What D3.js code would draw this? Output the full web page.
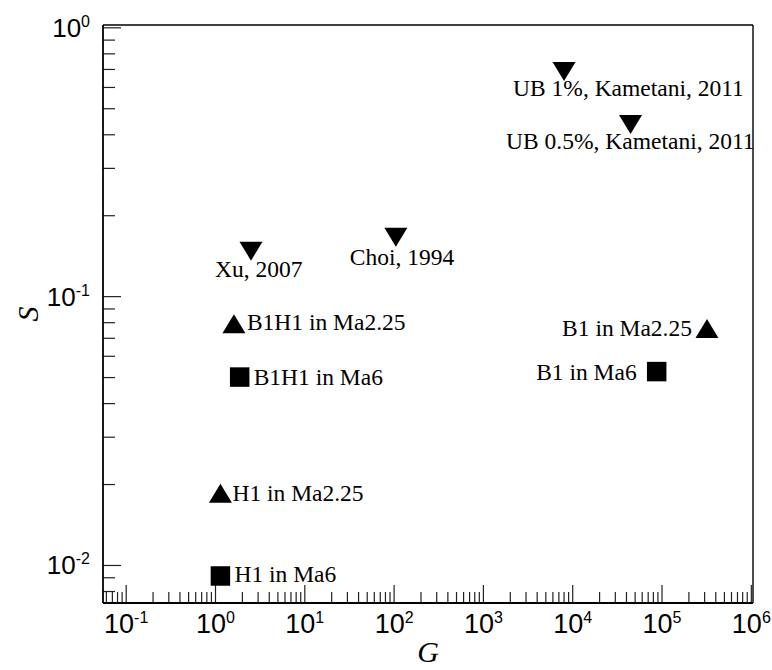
<!DOCTYPE html>
<html>
<head>
<meta charset="utf-8">
<script src="https://cdn.jsdelivr.net/npm/d3@7"></script>
<style>
  html, body { margin: 0; padding: 0; background: #fff; }
  svg { display: block; }
</style>
</head>
<body>
<svg id="chart" width="772" height="670"></svg>
<script>
// Point labels, the group each case belongs to, and the (G, S) values
const pointLabels = [
  "UB 1%, Kametani, 2011",
  "UB 0.5%, Kametani, 2011",
  "Xu, 2007",
  "Choi, 1994",
  "B1H1 in Ma2.25",
  "B1H1 in Ma6",
  "H1 in Ma2.25",
  "H1 in Ma6",
  "B1 in Ma2.25",
  "B1 in Ma6"
];
const pointGroups = ["reference", "reference", "reference", "reference",
                     "Ma2.25", "Ma6", "Ma2.25", "Ma6", "Ma2.25", "Ma6"];
const gValues = [8100, 45000, 2.53, 106, 1.63, 1.89, 1.15, 1.15, 323000, 88300];
const sValues = [0.685, 0.435, 0.147, 0.1655, 0.079, 0.050, 0.0185, 0.0091, 0.0758, 0.0524];

// Decade exponents for the major tick labels
const xTickExponents = [-1, 0, 1, 2, 3, 4, 5, 6];
const yTickExponents = [-2, -1, 0];

// Label placement relative to each marker (pixels)
const labelAnchor = ["start", "end", "start", "start", "start", "start", "start", "start", "end", "end"];
const labelDx = [-51, 124, -36, -46, 13, 14, 12, 14, -15, -20];
const labelDy = [25, 25, 26, 28, 6, 8, 8, 6, 8, 8];

const W = 772, H = 670;
const margin = { left: 103, right: 19, top: 25, bottom: 67 };
const iw = W - margin.left - margin.right;
const ih = H - margin.top - margin.bottom;

const svg = d3.select("#chart");
const g = svg.append("g").attr("transform", `translate(${margin.left},${margin.top})`);

const x = d3.scaleLog().domain([0.0557, 1.058e6]).range([0, iw]);
const y = d3.scaleLog().domain([0.00722, 1.02]).range([ih, 0]);

function minorTicks(scale, lo, hi) {
  const [d0, d1] = scale.domain();
  const out = [];
  for (let e = lo; e <= hi; e++) {
    for (let m = 2; m <= 9; m++) {
      const v = m * Math.pow(10, e);
      if (v >= d0 && v <= d1) out.push(v);
    }
  }
  return out;
}

// Minor ticks (inward)
g.append("g")
  .attr("transform", `translate(0,${ih})`)
  .call(d3.axisBottom(x).tickValues(minorTicks(x, -2, 6)).tickSize(-11).tickSizeOuter(0).tickFormat(""))
  .call(a => a.select(".domain").remove());
g.append("g")
  .call(d3.axisLeft(y).tickValues(minorTicks(y, -3, 0)).tickSize(-12).tickSizeOuter(0).tickFormat(""))
  .call(a => a.select(".domain").remove());

// Major ticks with 10^n labels
const xMajor = g.append("g")
  .attr("transform", `translate(0,${ih})`)
  .call(d3.axisBottom(x).tickValues(xTickExponents.map(e => Math.pow(10, e))).tickSize(-18).tickSizeOuter(0).tickFormat(""))
  .call(a => a.select(".domain").remove());
const yMajor = g.append("g")
  .call(d3.axisLeft(y).tickValues(yTickExponents.map(e => Math.pow(10, e))).tickSize(-18).tickSizeOuter(0).tickFormat(""))
  .call(a => a.select(".domain").remove());

g.selectAll(".tick line").attr("stroke", "#222").attr("stroke-width", 1.2);

function powerLabel(sel, exps) {
  sel.selectAll(".tick text").each(function (d, i) {
    const t = d3.select(this);
    t.text(null);
    t.append("tspan").text("10");
    t.append("tspan").attr("dy", -10).attr("font-size", 16).text(String(exps[i]));
  });
}
xMajor.selectAll(".tick text")
  .attr("y", 30).attr("dy", null)
  .attr("font-family", "'Liberation Sans', Arial, sans-serif")
  .attr("font-size", 27).attr("fill", "#000")
  .attr("text-anchor", "middle");
powerLabel(xMajor, xTickExponents);
yMajor.selectAll(".tick text")
  .attr("x", -13).attr("dy", 9)
  .attr("font-family", "'Liberation Sans', Arial, sans-serif")
  .attr("font-size", 26).attr("fill", "#000")
  .attr("text-anchor", "end");
powerLabel(yMajor, yTickExponents);

// Frame
g.append("line").attr("x1", 0).attr("x2", iw).attr("y1", 0).attr("y2", 0).attr("stroke", "#000").attr("stroke-width", 1.4);
g.append("line").attr("x1", iw).attr("x2", iw).attr("y1", 0).attr("y2", ih).attr("stroke", "#000").attr("stroke-width", 1.4);
g.append("line").attr("x1", 0).attr("x2", iw).attr("y1", ih).attr("y2", ih).attr("stroke", "#000").attr("stroke-width", 1.8);
g.append("line").attr("x1", 0).attr("x2", 0).attr("y1", 0).attr("y2", ih).attr("stroke", "#000").attr("stroke-width", 1.8);

// Marker shapes by group
function markerPath(group) {
  if (group === "reference") { // downward triangle
    const w = 23, h = 19;
    return `M${-w / 2},${-h / 2}L${w / 2},${-h / 2}L0,${h / 2}Z`;
  }
  if (group === "Ma2.25") { // upward triangle
    const w = 23, h = 19;
    return `M0,${-h / 2}L${w / 2},${h / 2}L${-w / 2},${h / 2}Z`;
  }
  const s = 19.5; // square
  return `M${-s / 2},${-s / 2}h${s}v${s}h${-s}Z`;
}

const idx = d3.range(pointLabels.length);
const pts = g.append("g").selectAll("g").data(idx).join("g")
  .attr("transform", i => `translate(${x(gValues[i])},${y(sValues[i])})`);
pts.append("path").attr("d", i => markerPath(pointGroups[i])).attr("fill", "#000");
pts.append("text")
  .attr("x", i => labelDx[i]).attr("y", i => labelDy[i])
  .attr("text-anchor", i => labelAnchor[i])
  .attr("font-family", "'Liberation Serif', 'Times New Roman', serif")
  .attr("font-size", 23.5).attr("fill", "#000")
  .text(i => pointLabels[i]);

// Axis titles
svg.append("text")
  .attr("x", margin.left + iw / 2).attr("y", 662)
  .attr("text-anchor", "middle")
  .attr("font-family", "'Liberation Serif', 'Times New Roman', serif")
  .attr("font-style", "italic").attr("font-size", 30)
  .text("G");
svg.append("text")
  .attr("transform", `translate(38,${margin.top + ih / 2}) rotate(-90)`)
  .attr("text-anchor", "middle")
  .attr("font-family", "'Liberation Serif', 'Times New Roman', serif")
  .attr("font-style", "italic").attr("font-size", 30)
  .text("S");
</script>
</body>
</html>
